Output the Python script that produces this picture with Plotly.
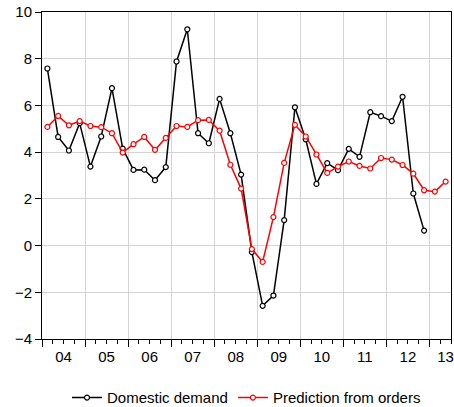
import plotly.graph_objects as go

# Quarterly periods, 2004Q1 .. 2013Q2
years = ["04", "05", "06", "07", "08", "09", "10", "11", "12", "13"]
quarters = [f"20{y}Q{q}" for y in years for q in range(1, 5)][:38]

domestic_demand = [
    7.58, 4.65, 4.07, 5.24,
    3.38, 4.67, 6.74, 4.15,
    3.24, 3.25, 2.80, 3.36,
    7.88, 9.26, 4.81, 4.38,
    6.28, 4.81, 3.04, -0.28,
    -2.58, -2.14, 1.09, 5.92,
    4.55, 2.64, 3.53, 3.23,
    4.14, 3.80, 5.71, 5.54,
    5.33, 6.37, 2.23, 0.64,
]

prediction_from_orders = [
    5.08, 5.55, 5.15, 5.33,
    5.12, 5.07, 4.81, 3.98,
    4.34, 4.65, 4.10, 4.61,
    5.12, 5.08, 5.37, 5.38,
    4.92, 3.46, 2.44, -0.15,
    -0.70, 1.22, 3.54, 5.17,
    4.67, 3.90, 3.11, 3.38,
    3.60, 3.41, 3.30, 3.75,
    3.68, 3.45, 3.08, 2.37,
    2.31, 2.74,
]

y_ticks = [-4, -2, 0, 2, 4, 6, 8, 10]

# position of each quarter on a continuous axis
idx = {q: i for i, q in enumerate(quarters)}
x_dd = [idx[q] for q in quarters[:len(domestic_demand)]]
x_pr = [idx[q] for q in quarters[:len(prediction_from_orders)]]

n_q = len(quarters)
year_bounds = [i * 4 - 0.5 for i in range(len(years))]
# year label in the middle of its year, kept inside the plotted range
year_centers = [min(i * 4 + 1.5, n_q - 1) for i in range(len(years))]

FONT = "Liberation Sans, Arial, sans-serif"
xr = [-0.5, n_q - 0.5]

fig = go.Figure()
fig.add_trace(go.Scatter(
    x=x_dd, y=domestic_demand, name="Domestic demand",
    mode="lines+markers",
    line=dict(color="black", width=1.5),
    marker=dict(symbol="circle", size=5, color="white",
                line=dict(color="black", width=1.2)),
))
fig.add_trace(go.Scatter(
    x=x_pr, y=prediction_from_orders, name="Prediction from orders",
    mode="lines+markers",
    line=dict(color="#ff0000", width=1.5),
    marker=dict(symbol="circle", size=5, color="white",
                line=dict(color="#ff0000", width=1.2)),
))
# invisible carrier for the year label axis
fig.add_trace(go.Scatter(x=[year_centers[0]], y=[0], xaxis="x2",
                         mode="markers", marker=dict(opacity=0),
                         showlegend=False, hoverinfo="skip"))

fig.update_layout(
    width=454, height=407,
    margin=dict(l=42, r=3, t=12, b=68, autoexpand=False),
    paper_bgcolor="white", plot_bgcolor="white",
    font=dict(family=FONT, size=15, color="black"),
    showlegend=True,
    legend=dict(orientation="h", x=0.5, xanchor="center",
                y=-0.18, yanchor="middle",
                font=dict(family=FONT, size=15, color="black"),
                itemwidth=30, tracegroupgap=0),
    xaxis=dict(
        range=xr, tickmode="array", tickvals=year_bounds,
        showticklabels=False, ticks="outside", ticklen=7,
        tickcolor="black", tickwidth=1,
        showgrid=True, gridcolor="#d4d4d4", gridwidth=1,
        zeroline=False, showline=True, linecolor="black",
        linewidth=1, mirror=True, automargin=False,
        minor=dict(tickmode="linear", tick0=-0.5, dtick=1,
                   ticks="outside", ticklen=4, tickcolor="black",
                   showgrid=False),
    ),
    xaxis2=dict(
        range=xr, overlaying="x", side="bottom",
        tickmode="array", tickvals=year_centers, ticktext=years,
        ticks="outside", ticklen=4, tickcolor="rgba(0,0,0,0)",
        showgrid=False, zeroline=False, showline=False, automargin=False,
        tickfont=dict(family=FONT, size=15, color="black"),
    ),
    yaxis=dict(
        range=[-4, 10], tickmode="array", tickvals=y_ticks,
        ticks="outside", ticklen=6, tickcolor="black",
        showgrid=True, gridcolor="#d4d4d4", gridwidth=1,
        zeroline=False, showline=True, linecolor="black",
        linewidth=1, mirror=True, automargin=False,
        tickfont=dict(family=FONT, size=15, color="black"),
    ),
)

fig.write_html("out.html")
